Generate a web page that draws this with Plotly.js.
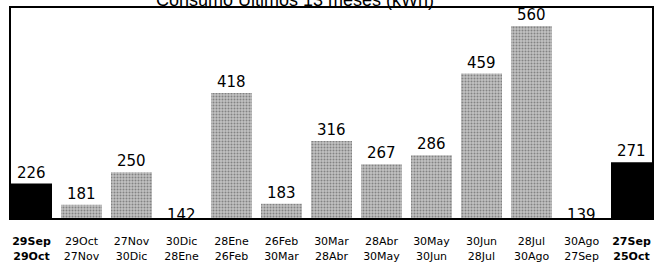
<!DOCTYPE html>
<html>
<head>
<meta charset="utf-8">
<script src="https://cdn.plot.ly/plotly-3.0.1.min.js"></script>
<style>html,body{margin:0;padding:0;background:#fff;}#chart{width:660px;height:267px;}</style>
</head>
<body>
<div id="chart"></div>
<script>
const periodStart = ["29Sep","29Oct","27Nov","30Dic","28Ene","26Feb","30Mar","28Abr","30May","30Jun","28Jul","30Ago","27Sep"];
const periodEnd   = ["29Oct","27Nov","30Dic","28Ene","26Feb","30Mar","28Abr","30May","30Jun","28Jul","30Ago","27Sep","25Oct"];
const consumo     = [226, 181, 250, 142, 418, 183, 316, 267, 286, 459, 560, 139, 271];
const highlighted = [true, false, false, false, false, false, false, false, false, false, false, false, true];
const titleText = "Consumo Últimos 13 meses (kWh)";

const yMin = 153, yMax = 598;
const idx = consumo.map((_, i) => i);
const tickText = idx.map(i => highlighted[i]
  ? "<b>" + periodStart[i] + "<br>" + periodEnd[i] + "</b>"
  : periodStart[i] + "<br>" + periodEnd[i]);

const traces = [
  {
    type: "bar", x: idx, y: consumo,
    marker: {
      color: idx.map(i => highlighted[i] ? "#000000" : "#c2c2c2"),
      line: {width: 0},
      pattern: {
        shape: idx.map(i => highlighted[i] ? "" : "."),
        fillmode: "overlay",
        fgcolor: "#8a8a8a", size: 3, solidity: 0.35
      }
    },
    hoverinfo: "skip"
  }
];

const annotations = idx.map(i => ({
  x: i, y: Math.max(consumo[i], yMin), xref: "x", yref: "y",
  text: String(consumo[i]), showarrow: false, yanchor: "bottom",
  yshift: consumo[i] < yMin ? -8 : 0,
  font: {family: "DejaVu Sans", size: 15, color: "#000"}
}));

const layout = {
  width: 660, height: 267,
  margin: {l: 11, r: 8, t: 8, b: 49},
  paper_bgcolor: "#fff", plot_bgcolor: "#fff",
  showlegend: false,
  bargap: 0.18,
  title: {text: titleText, x: 0.447, xanchor: "center", y: 1.0, yref: "container", yanchor: "middle",
    font: {family: "Liberation Sans", size: 18, color: "#000"}},
  xaxis: {
    range: [-0.41, 12.41], tickvals: idx, ticktext: tickText,
    showline: true, linecolor: "#000", linewidth: 2, mirror: true,
    ticks: "outside", ticklen: 12, tickcolor: "rgba(0,0,0,0)",
    showgrid: false, zeroline: false, fixedrange: true,
    tickfont: {family: "DejaVu Sans", size: 11, color: "#000"}
  },
  yaxis: {
    range: [yMin, yMax], showticklabels: false, ticks: "",
    showline: true, linecolor: "#000", linewidth: 2, mirror: true,
    showgrid: false, zeroline: false, fixedrange: true
  },
  annotations: annotations
};

Plotly.newPlot("chart", traces, layout, {displayModeBar: false, staticPlot: true});
</script>
</body>
</html>
